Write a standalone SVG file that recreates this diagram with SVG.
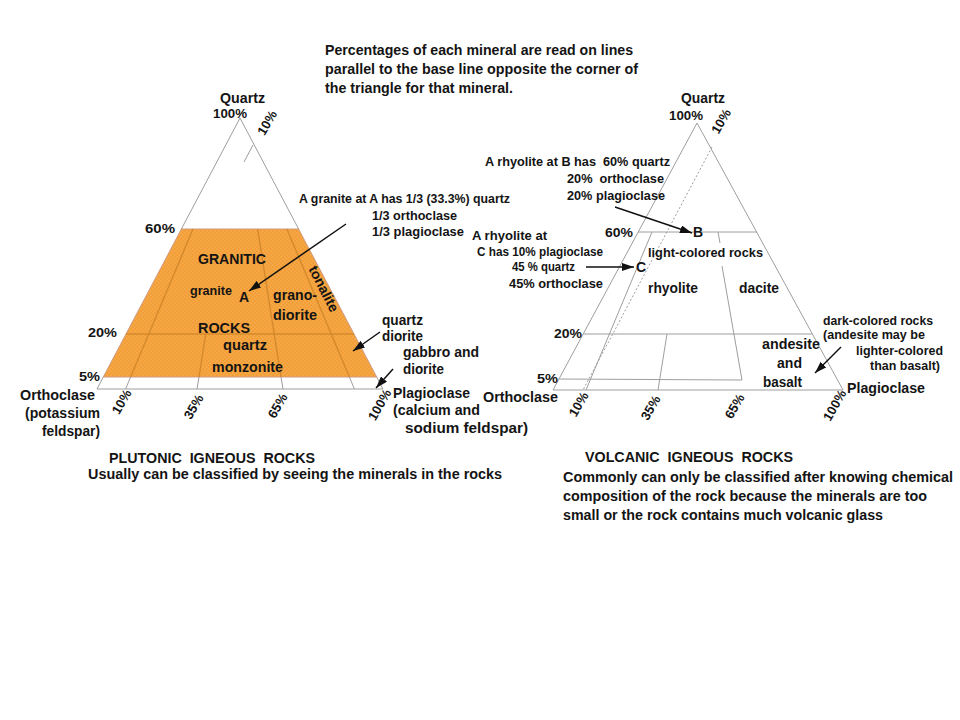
<svg xmlns="http://www.w3.org/2000/svg" width="960" height="720" viewBox="0 0 960 720">
<style>
text{font-family:"Liberation Sans",Arial,Helvetica,sans-serif;font-weight:bold;fill:#141414;}
.s14{font-size:14px}
.s13{font-size:13px}
.s12{font-size:12px}
.edge{stroke:#9e9e9e;stroke-width:1;fill:none}
.dot{stroke:#9e9e9e;stroke-width:1;fill:none;stroke-dasharray:2 2}
.oline{stroke:#d48a2c;stroke-width:1.4;fill:none}
.arr{stroke:#111;stroke-width:1.5;fill:none;marker-end:url(#ah)}
</style>
<defs>
<pattern id="stip" width="4" height="4" patternUnits="userSpaceOnUse">
<rect width="4" height="4" fill="#F39E36"/>
<circle cx="1" cy="1" r="0.7" fill="#F7B664"/>
<circle cx="3" cy="3" r="0.7" fill="#F7B664"/>
</pattern>
<marker id="ah" viewBox="0 0 12 8" refX="12" refY="4" markerWidth="12" markerHeight="8" markerUnits="userSpaceOnUse" orient="auto">
<path d="M0,0 L12,4 L0,8 z" fill="#111"/>
</marker>
</defs>
<rect width="960" height="720" fill="#ffffff"/>

<g id="intro">
<text class="s14" x="325" y="55" textLength="308" lengthAdjust="spacingAndGlyphs">Percentages of each mineral are read on lines</text>
<text class="s14" x="325" y="74" textLength="313" lengthAdjust="spacingAndGlyphs">parallel to the base line opposite the corner of</text>
<text class="s14" x="325" y="93" textLength="188" lengthAdjust="spacingAndGlyphs">the triangle for that mineral.</text>
</g>

<g id="plutonic-triangle">
<polygon points="181.4,229 298.6,229 376.7,377 103.3,377" fill="url(#stip)" stroke="#d09a80" stroke-width="1"/>
<path class="edge" d="M240,118 L181.4,229 M240,118 L298.6,229 M103.3,377 L97,389 L383,389 L376.7,377"/>
<path class="edge" d="M253,145 L244,162"/>
<path class="edge" d="M130.6,377 L125.6,389 M199,377 L197,389 M281,377 L283,389 M349.4,377 L354.4,389"/>
<path class="oline" d="M126,334 L354,334 M193,229 L130.6,377 M205.7,334 L199,377 M257.6,229 L281,377 M286.9,229 L349.4,377"/>
</g>

<g id="plutonic-labels">
<text class="s14" x="220" y="103" textLength="45" lengthAdjust="spacingAndGlyphs">Quartz</text>
<text class="s13" x="213" y="118" textLength="34" lengthAdjust="spacingAndGlyphs">100%</text>
<text class="s13" text-anchor="middle" transform="translate(271,125) rotate(-60)">10%</text>
<text class="s13" x="145" y="233" textLength="30" lengthAdjust="spacingAndGlyphs">60%</text>
<text class="s13" x="88" y="337" textLength="29" lengthAdjust="spacingAndGlyphs">20%</text>
<text class="s13" x="79" y="381" textLength="21" lengthAdjust="spacingAndGlyphs">5%</text>
<text class="s14" x="20" y="400" textLength="75" lengthAdjust="spacingAndGlyphs">Orthoclase</text>
<text class="s14" x="25" y="418" textLength="75" lengthAdjust="spacingAndGlyphs">(potassium</text>
<text class="s14" x="42" y="436" textLength="58" lengthAdjust="spacingAndGlyphs">feldspar)</text>
<text class="s13" text-anchor="middle" transform="translate(125.5,404) rotate(-60)">10%</text>
<text class="s13" text-anchor="middle" transform="translate(197.5,409) rotate(-60)">35%</text>
<text class="s13" text-anchor="middle" transform="translate(281.5,408) rotate(-60)">65%</text>
<text class="s13" text-anchor="middle" transform="translate(383.5,407) rotate(-60)">100%</text>
<text class="s14" x="393" y="398" textLength="77" lengthAdjust="spacingAndGlyphs">Plagioclase</text>
<text class="s14" x="393" y="415" textLength="87" lengthAdjust="spacingAndGlyphs">(calcium and</text>
<text class="s14" x="405" y="433" textLength="123" lengthAdjust="spacingAndGlyphs">sodium feldspar)</text>
<text class="s14" x="198" y="264" textLength="68" lengthAdjust="spacingAndGlyphs">GRANITIC</text>
<text class="s13" x="190" y="295" textLength="42" lengthAdjust="spacingAndGlyphs">granite</text>
<text class="s14" x="239" y="302">A</text>
<text class="s14" x="273" y="300" textLength="44" lengthAdjust="spacingAndGlyphs">grano-</text>
<text class="s14" x="273" y="320" textLength="44" lengthAdjust="spacingAndGlyphs">diorite</text>
<text class="s14" text-anchor="middle" transform="translate(319.5,291) rotate(63)">tonalite</text>
<text class="s14" x="198" y="333" textLength="52" lengthAdjust="spacingAndGlyphs">ROCKS</text>
<text class="s14" x="223" y="350" textLength="44" lengthAdjust="spacingAndGlyphs">quartz</text>
<text class="s14" x="212" y="372" textLength="71" lengthAdjust="spacingAndGlyphs">monzonite</text>
<text class="s14" x="382" y="325" textLength="41" lengthAdjust="spacingAndGlyphs">quartz</text>
<text class="s14" x="382" y="341" textLength="41" lengthAdjust="spacingAndGlyphs">diorite</text>
<text class="s14" x="403" y="357" textLength="76" lengthAdjust="spacingAndGlyphs">gabbro and</text>
<text class="s14" x="403" y="374" textLength="41" lengthAdjust="spacingAndGlyphs">diorite</text>
<text class="s12" x="299" y="203" textLength="211" lengthAdjust="spacingAndGlyphs">A granite at A has 1/3 (33.3%) quartz</text>
<text class="s12" x="372" y="220" textLength="85" lengthAdjust="spacingAndGlyphs">1/3 orthoclase</text>
<text class="s12" x="372" y="236" textLength="92" lengthAdjust="spacingAndGlyphs">1/3 plagioclase</text>
<text class="s14" x="109" y="463" textLength="206" lengthAdjust="spacingAndGlyphs" xml:space="preserve">PLUTONIC  IGNEOUS  ROCKS</text>
<text class="s14" x="88" y="479" textLength="414" lengthAdjust="spacingAndGlyphs">Usually can be classified by seeing the minerals in the rocks</text>
</g>

<g id="volcanic-triangle">
<path class="edge" d="M697,123 L553,390 L843,390 Z"/>
<path class="edge" d="M638,232 L757,232 M583,334 L812,334 M559,379 L742,380"/>
<path class="edge" d="M652,232 L586,390 M667,334 L658,390 M718,232 L720,243 M722,266 L742,380"/>
<path class="dot" d="M712,147 L583,390"/>
</g>

<g id="volcanic-labels">
<text class="s14" x="681" y="103" textLength="44" lengthAdjust="spacingAndGlyphs">Quartz</text>
<text class="s13" x="669" y="120" textLength="34" lengthAdjust="spacingAndGlyphs">100%</text>
<text class="s13" text-anchor="middle" transform="translate(725,123.5) rotate(-60)">10%</text>
<text class="s12" x="485" y="166" textLength="185" lengthAdjust="spacingAndGlyphs" xml:space="preserve">A rhyolite at B has  60% quartz</text>
<text class="s12" x="567" y="183" textLength="97" lengthAdjust="spacingAndGlyphs" xml:space="preserve">20%  orthoclase</text>
<text class="s12" x="567" y="200" textLength="98" lengthAdjust="spacingAndGlyphs">20% plagioclase</text>
<text class="s13" x="605" y="237" textLength="28" lengthAdjust="spacingAndGlyphs">60%</text>
<text class="s14" x="693" y="237">B</text>
<text class="s13" x="648" y="257" textLength="115" lengthAdjust="spacingAndGlyphs">light-colored rocks</text>
<text class="s12" x="472" y="240" textLength="75" lengthAdjust="spacingAndGlyphs">A rhyolite at</text>
<text class="s12" x="477" y="256" textLength="126" lengthAdjust="spacingAndGlyphs">C has 10% plagioclase</text>
<text class="s12" x="512" y="271" textLength="63" lengthAdjust="spacingAndGlyphs">45 % quartz</text>
<text class="s12" x="509" y="288" textLength="94" lengthAdjust="spacingAndGlyphs">45% orthoclase</text>
<text class="s14" x="636" y="272">C</text>
<text class="s14" x="648" y="293" textLength="50" lengthAdjust="spacingAndGlyphs">rhyolite</text>
<text class="s14" x="739" y="293" textLength="40" lengthAdjust="spacingAndGlyphs">dacite</text>
<text class="s13" x="554" y="338" textLength="28" lengthAdjust="spacingAndGlyphs">20%</text>
<text class="s13" x="537" y="383" textLength="21" lengthAdjust="spacingAndGlyphs">5%</text>
<text class="s14" x="762" y="349" textLength="58" lengthAdjust="spacingAndGlyphs">andesite</text>
<text class="s14" x="777" y="368" textLength="25" lengthAdjust="spacingAndGlyphs">and</text>
<text class="s14" x="763" y="387" textLength="39" lengthAdjust="spacingAndGlyphs">basalt</text>
<text class="s12" x="823" y="325" textLength="110" lengthAdjust="spacingAndGlyphs">dark-colored rocks</text>
<text class="s12" x="823" y="339" textLength="102" lengthAdjust="spacingAndGlyphs">(andesite may be</text>
<text class="s12" x="856" y="355" textLength="87" lengthAdjust="spacingAndGlyphs">lighter-colored</text>
<text class="s12" x="870" y="370" textLength="70" lengthAdjust="spacingAndGlyphs">than basalt)</text>
<text class="s14" x="847" y="393" textLength="78" lengthAdjust="spacingAndGlyphs">Plagioclase</text>
<text class="s14" x="483" y="402" textLength="75" lengthAdjust="spacingAndGlyphs">Orthoclase</text>
<text class="s13" text-anchor="middle" transform="translate(582.5,406.5) rotate(-60)">10%</text>
<text class="s13" text-anchor="middle" transform="translate(654.5,410) rotate(-60)">35%</text>
<text class="s13" text-anchor="middle" transform="translate(738.5,408.5) rotate(-60)">65%</text>
<text class="s13" text-anchor="middle" transform="translate(838.5,407.5) rotate(-60)">100%</text>
<text class="s14" x="585" y="462" textLength="208" lengthAdjust="spacingAndGlyphs" xml:space="preserve">VOLCANIC  IGNEOUS  ROCKS</text>
<text class="s14" x="563" y="482" textLength="390" lengthAdjust="spacingAndGlyphs">Commonly can only be classified after knowing chemical</text>
<text class="s14" x="563" y="501" textLength="364" lengthAdjust="spacingAndGlyphs">composition of the rock because the minerals are too</text>
<text class="s14" x="563" y="520" textLength="320" lengthAdjust="spacingAndGlyphs">small or the rock contains much volcanic glass</text>
</g>

<g id="connectors">
<path class="arr" d="M346,224 L249,291"/>
<path class="arr" d="M380,332 L353,351"/>
<path class="arr" d="M393,369 L376,388"/>
<path class="arr" d="M615,207 L692,233"/>
<path class="arr" d="M586,267 L634,267"/>
<path class="arr" d="M841,347 L815,373"/>
</g>
</svg>
